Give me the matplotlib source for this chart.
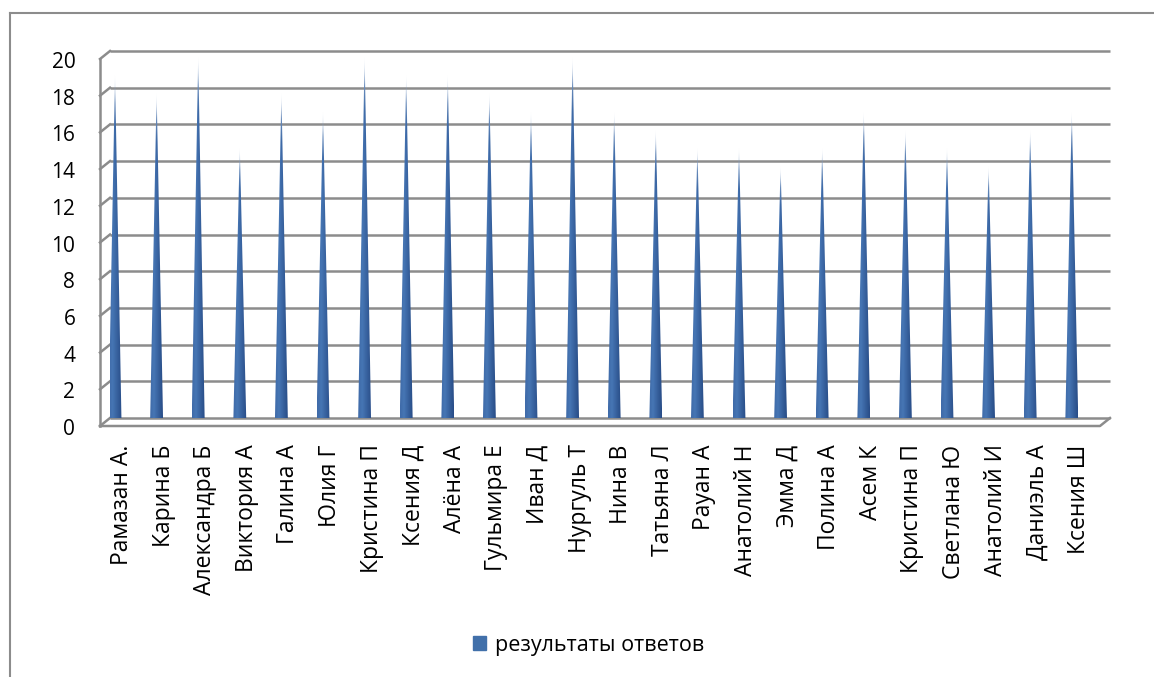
import numpy as np
import matplotlib
matplotlib.use("Agg")
import matplotlib.pyplot as plt
from matplotlib.path import Path
from matplotlib.patches import PathPatch, Patch
from matplotlib.lines import Line2D
from matplotlib.colors import to_rgb
import matplotlib.transforms as mtransforms

plt.rcParams["font.family"] = ["Open Sans", "DejaVu Sans"]

# --- data ---
names = ["Рамазан А.", "Карина Б", "Александра Б", "Виктория А", "Галина А",
         "Юлия Г", "Кристина П", "Ксения Д", "Алёна А", "Гульмира Е",
         "Иван Д", "Нургуль Т", "Нина В", "Татьяна Л", "Рауан А",
         "Анатолий Н", "Эмма Д", "Полина А", "Асем К", "Кристина П",
         "Светлана Ю", "Анатолий И", "Даниэль А", "Ксения Ш"]
scores = [19, 18, 20, 15, 18, 17, 20, 19, 19, 18, 17, 20,
          17, 16, 15, 15, 14, 15, 17, 16, 15, 14, 16, 17]
series_name = "результаты ответов"
y_ticks = list(range(0, 21, 2))

# --- style ---
C_GRID = "#8c8c8c"
C_BORDER = "#8c8c8c"
C_LEFT, C_MID, C_RIGHT = "#3f6aa8", "#4676b4", "#284c87"
C_LEGEND = "#4170aa"

W, H, DPI = 11.54, 6.77, 100
fig = plt.figure(figsize=(W, H), dpi=DPI)
# back wall of the 3d box, in pixels: x 110..1110, y 51..418 from top
ax = fig.add_axes([110 / 1154, 1 - 418 / 677, 1000 / 1154, 367 / 677])

px_x = 41.6                       # pixels per category
xl = -5 / px_x
xr = xl + 1000 / px_x
ymax = 20
px_y = 367 / ymax
ax.set_xlim(xl, xr)
ax.set_ylim(0, ymax)

# depth offset of the 3d box (front is 10px left, 8px lower)
dx, dy = -10 / px_x, -8 / px_y

# gridlines on back wall + diagonal on left wall
for t in y_ticks:
    ax.plot([xl, xr], [t, t], color=C_GRID, lw=1.8, clip_on=False, zorder=1,
            solid_capstyle="butt")
    ax.plot([xl, xl + dx], [t, t + dy], color=C_GRID, lw=1.8, clip_on=False,
            zorder=1)
# left wall front edge
ax.plot([xl + dx, xl + dx], [dy, ymax + dy], color=C_GRID, lw=1.8,
        clip_on=False, zorder=1)
# floor
ax.plot([xl + dx, xr + dx, xr], [dy, dy, 0], color=C_GRID, lw=1.8,
        clip_on=False, zorder=1)

# cones
half_w = 6.5 / px_x
arc_h = 2.5 / px_y
base = -4 / px_y
nx, ny = 40, 160
cols = np.linspace(0, 1, nx)
stops = [(0.0, C_LEFT), (0.3, C_MID), (1.0, C_RIGHT)]
rgb = np.zeros((nx, 3))
for k in range(3):
    rgb[:, k] = np.interp(cols, [s[0] for s in stops],
                          [to_rgb(s[1])[k] for s in stops])
for i, v in enumerate(scores):
    x = i
    th = np.linspace(0, np.pi, 16)
    arc = [(x + half_w * np.cos(a), base - arc_h * np.sin(a)) for a in th]
    verts = [(x, v + base)] + arc + [(x, v + base)]
    codes = [Path.MOVETO] + [Path.LINETO] * (len(verts) - 2) + [Path.CLOSEPOLY]
    clip = PathPatch(Path(verts, codes), transform=ax.transData,
                     facecolor="none", edgecolor="none")
    ax.add_patch(clip)
    rows = np.linspace(0, 1, ny)           # 0 bottom, 1 top
    alpha = np.clip((1.0 - rows) / 0.08, 0, 1)
    img = np.zeros((ny, nx, 4))
    img[:, :, :3] = rgb[None, :, :]
    # lighten toward tip
    light = np.clip((rows - 0.85) / 0.15, 0, 1)[:, None, None] * 0.5
    img[:, :, :3] = img[:, :, :3] * (1 - light) + light
    img[:, :, 3] = alpha[:, None]
    im = ax.imshow(img, extent=(x - half_w, x + half_w, base - arc_h, v + base),
                   origin="lower", aspect="auto", interpolation="bilinear",
                   zorder=3)
    im.set_clip_path(clip)

ax.set_xlim(xl, xr)
ax.set_ylim(0, ymax)

for s in ax.spines.values():
    s.set_visible(False)

ax.set_yticks(y_ticks)
ax.set_yticklabels([str(t) for t in y_ticks], fontsize=15)
ax.tick_params(axis="y", length=0, pad=25)
for lab in ax.get_yticklabels():
    lab.set_transform(lab.get_transform() +
                      mtransforms.ScaledTranslation(0, -9 / DPI, fig.dpi_scale_trans))

ax.set_xticks(range(len(names)))
ax.set_xticklabels(names, rotation=90, fontsize=16.5, va="top", ha="center")
ax.tick_params(axis="x", length=0, pad=19)
for lab in ax.get_xticklabels():
    lab.set_transform(lab.get_transform() +
                      mtransforms.ScaledTranslation(7 / DPI, 0, fig.dpi_scale_trans))

# legend
fig.legend(handles=[Patch(color=C_LEGEND, label=series_name)],
           loc="center", bbox_to_anchor=(0.51, 1 - 645 / 677),
           frameon=False, fontsize=15.5, handlelength=0.6, handleheight=0.6,
           handletextpad=0.4)

# outer chart border (only left and top visible)
fig.add_artist(Line2D([10 / 1154, 10 / 1154], [0, 1 - 13 / 677],
                      color=C_BORDER, lw=1.5, transform=fig.transFigure))
fig.add_artist(Line2D([10 / 1154, 1], [1 - 13 / 677, 1 - 13 / 677],
                      color=C_BORDER, lw=1.5, transform=fig.transFigure))

fig.savefig("out.png", dpi=DPI)
